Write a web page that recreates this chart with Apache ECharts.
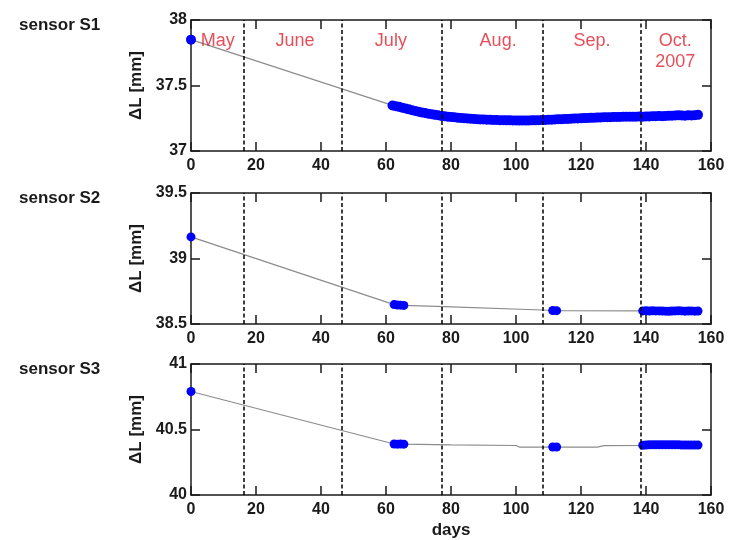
<!DOCTYPE html>
<html>
<head>
<meta charset="utf-8">
<script src="https://cdn.jsdelivr.net/npm/echarts@6/dist/echarts.min.js"></script>
<style>
html, body { margin: 0; padding: 0; background: #fff; }
#chart { width: 729px; height: 540px; }
</style>
</head>
<body>
<div id="chart"></div>
<script>
// month boundaries (days) and month labels
var monthStarts = [16.3, 46.3, 77.3, 108.3, 138.3];
var monthNames = ['May', 'June', 'July', 'Aug.', 'Sep.', 'Oct.\n2007'];
var monthCenters = [8.2, 32, 61.5, 94.5, 123.4, 149];
var monthLabelLevel = 37.92;

var sensorNames = ['sensor S1', 'sensor S2', 'sensor S3'];
var yMins = [37, 38.5, 40];
var yMaxs = [38, 39.5, 41];

// sensor S1 : measured points [day, dL]
var s1Points = [
  [0, 37.85],
  [62, 37.348], [63, 37.342], [64, 37.337], [65, 37.330], [66, 37.324], [67, 37.318], [68, 37.311],
  [69, 37.305], [70, 37.300], [71, 37.294], [72, 37.290], [73, 37.285], [74, 37.281], [75, 37.276],
  [76, 37.273], [77, 37.268], [78, 37.265], [79, 37.262], [80, 37.259], [81, 37.257], [82, 37.254],
  [83, 37.252], [84, 37.250], [85, 37.248], [86, 37.246], [87, 37.245], [88, 37.243], [89, 37.241],
  [90, 37.240], [91, 37.239], [92, 37.238], [93, 37.237], [94, 37.236], [95, 37.235], [96, 37.235],
  [97, 37.234], [98, 37.234], [99, 37.233], [100, 37.233], [101, 37.232], [102, 37.233], [103, 37.232],
  [104, 37.233], [105, 37.234], [106, 37.234], [107, 37.235], [108, 37.236], [109, 37.237], [110, 37.238],
  [111, 37.239], [112, 37.240], [113, 37.242], [114, 37.243], [115, 37.244], [116, 37.245], [117, 37.247],
  [118, 37.248], [119, 37.249], [120, 37.250], [121, 37.251], [122, 37.252], [123, 37.253], [124, 37.254],
  [125, 37.255], [126, 37.256], [127, 37.257], [128, 37.258], [129, 37.258], [130, 37.259], [131, 37.260],
  [132, 37.260], [133, 37.261], [134, 37.261], [135, 37.262], [136, 37.262], [137, 37.262], [138, 37.263],
  [139, 37.262], [140, 37.263], [141, 37.264], [142, 37.265], [143, 37.266], [144, 37.267], [145, 37.266],
  [146, 37.268], [147, 37.269], [148, 37.270], [149, 37.271], [150, 37.272], [151, 37.271], [152, 37.270],
  [153, 37.272], [154, 37.271], [155, 37.273], [156, 37.276]
];
var s1LineOnly = [];

// sensor S2
var s2Points = [
  [0, 39.165],
  [62.5, 38.648], [63.5, 38.645], [64.5, 38.644], [65.5, 38.642],
  [111.3, 38.603], [112.5, 38.602],
  [139, 38.600], [140, 38.601], [141, 38.599], [142, 38.601], [143, 38.600], [144, 38.600],
  [145, 38.599], [146, 38.598], [147, 38.597], [148, 38.599], [149, 38.600], [150, 38.601],
  [151, 38.600], [152, 38.598], [153, 38.599], [154, 38.600], [155, 38.598], [156, 38.599]
];
var s2LineOnly = [[78, 38.632], [108, 38.607]];

// sensor S3
var s3Points = [
  [0, 40.79],
  [62.5, 40.389], [63.5, 40.388], [64.5, 40.389], [65.5, 40.388],
  [111.3, 40.366], [112.5, 40.366],
  [139, 40.380], [140, 40.382], [141, 40.383], [142, 40.383], [143, 40.384], [144, 40.384],
  [145, 40.384], [146, 40.384], [147, 40.383], [148, 40.384], [149, 40.383], [150, 40.383],
  [151, 40.382], [152, 40.381], [153, 40.382], [154, 40.382], [155, 40.381], [156, 40.381]
];
var s3LineOnly = [[80, 40.383], [100, 40.378], [101, 40.366], [108, 40.365], [125, 40.365], [127, 40.377], [138.5, 40.379]];

var allPoints = [s1Points, s2Points, s3Points];
var allLineOnly = [s1LineOnly, s2LineOnly, s3LineOnly];

var gridTops = [20, 193, 364];
var gridHeight = 131;
var font = 'Liberation Sans, Arial, sans-serif';
var ink = '#1a1a1a';

var chart = echarts.init(document.getElementById('chart'), null, { renderer: 'canvas' });

var grids = [], xAxes = [], yAxes = [], series = [], titles = [];

for (var i = 0; i < 3; i++) {
  grids.push({ left: 191, width: 520, top: gridTops[i], height: gridHeight });
  titles.push({
    text: sensorNames[i], left: 14, top: gridTops[i] - 8,
    textStyle: { fontFamily: font, fontSize: 17, fontWeight: 'bold', color: ink }
  });
  var axisLine = { show: true, onZero: false, lineStyle: { color: ink, width: 1.5 } };
  var tick = { show: true, inside: true, length: 9, lineStyle: { color: ink, width: 1.5 } };
  xAxes.push({
    gridIndex: i, type: 'value', position: 'bottom', min: 0, max: 160, interval: 20,
    axisLine: axisLine, axisTick: tick, splitLine: { show: false },
    axisLabel: { margin: 7, fontFamily: font, fontSize: 16, fontWeight: 'bold', color: ink },
    name: i === 2 ? 'days' : '', nameLocation: 'middle', nameGap: 27,
    nameTextStyle: { fontFamily: font, fontSize: 17, fontWeight: 'bold', color: ink }
  });
  xAxes.push({
    gridIndex: i, type: 'value', position: 'top', min: 0, max: 160, interval: 20,
    axisLine: axisLine, axisTick: tick, splitLine: { show: false }, axisLabel: { show: false }
  });
  yAxes.push({
    gridIndex: i, type: 'value', position: 'left', min: yMins[i], max: yMaxs[i], interval: 0.5,
    axisLine: axisLine, axisTick: tick, splitLine: { show: false },
    axisLabel: { margin: 4, fontFamily: font, fontSize: 16, fontWeight: 'bold', color: ink },
    name: '\u0394L [mm]', nameLocation: 'middle', nameGap: 42, nameRotate: 90,
    nameTextStyle: { fontFamily: font, fontSize: 17, fontWeight: 'bold', color: ink }
  });
  yAxes.push({
    gridIndex: i, type: 'value', position: 'right', min: yMins[i], max: yMaxs[i], interval: 0.5,
    axisLine: axisLine, axisTick: tick, splitLine: { show: false }, axisLabel: { show: false }
  });

  var lineData = allPoints[i].concat(allLineOnly[i]).sort(function (a, b) { return a[0] - b[0]; });
  series.push({
    type: 'line', xAxisIndex: 2 * i, yAxisIndex: 2 * i, data: lineData,
    showSymbol: false, silent: true, z: 2,
    lineStyle: { color: '#8c8c8c', width: 1.2 },
    markLine: {
      symbol: 'none', silent: true, label: { show: false },
      lineStyle: { color: '#000', type: [4, 2.5], width: 1.5 },
      data: monthStarts.map(function (d) { return { xAxis: d }; })
    }
  });
  series.push({
    type: 'scatter', xAxisIndex: 2 * i, yAxisIndex: 2 * i, data: allPoints[i],
    symbol: 'circle', symbolSize: i === 0 ? 10 : 9, z: 3, silent: true,
    itemStyle: { color: '#0000ff', opacity: 1 }
  });
}

series.push({
  type: 'scatter', xAxisIndex: 0, yAxisIndex: 0, symbolSize: 0, silent: true, z: 5,
  data: monthNames.map(function (n, k) { return { value: [monthCenters[k], monthLabelLevel], name: n }; }),
  label: {
    show: true, position: 'inside', align: 'center', verticalAlign: 'top',
    formatter: '{b}', fontFamily: font, fontSize: 18, lineHeight: 21, color: '#e1222f'
  }
});

chart.setOption({
  animation: false,
  title: titles,
  grid: grids,
  xAxis: xAxes,
  yAxis: yAxes,
  series: series
});
</script>
</body>
</html>
